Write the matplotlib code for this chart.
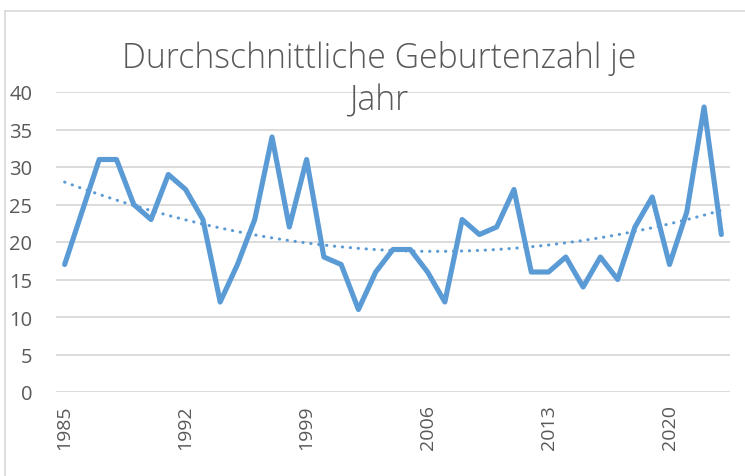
import numpy as np
import matplotlib
matplotlib.use("Agg")
import matplotlib.pyplot as plt
from matplotlib.lines import Line2D

# ========== DATA ==========
years = list(range(1985, 2024))
births = [17, 24, 31, 31, 25, 23, 29, 27, 23, 12,
          17, 23, 34, 22, 31, 18, 17, 11, 16, 19,
          19, 16, 12, 23, 21, 22, 27, 16, 16, 18,
          14, 18, 15, 22, 26, 17, 24, 38, 21]
tick_years = [1985, 1992, 1999, 2006, 2013, 2020]
title = "Durchschnittliche Geburtenzahl je\nJahr"

# ========== STYLE ==========
blue = "#5B9BD5"
grid_col = "#D9D9D9"
text_col = "#595959"
plt.rcParams["font.family"] = ["Open Sans", "DejaVu Sans"]

fig = plt.figure(figsize=(7.45, 4.77), dpi=100)
ax = fig.add_axes([56 / 745, 1 - 393 / 477, 674 / 745, 300 / 477])

x = np.arange(len(years))
ax.plot(x, births, color=blue, lw=3.7, solid_joinstyle="round",
        solid_capstyle="round", zorder=3)

# polynomial (order 2) trendline, dotted like Excel
coef = np.polyfit(x, births, 2)
trend = np.polyval(coef, x)
ax.plot(x, trend, color=blue, lw=2.2, linestyle=(0, (0.1, 2.5)),
        dash_capstyle="round", zorder=2)

ax.set_xlim(-0.5, len(years) - 0.5)
ax.set_ylim(0, 40)
ax.set_yticks(range(0, 41, 5))
ax.yaxis.grid(True, color=grid_col, lw=1.3)
ax.set_axisbelow(True)
ax.set_xticks([years.index(t) for t in tick_years])
ax.set_xticklabels([str(t) for t in tick_years], rotation=90)
ax.tick_params(axis="x", length=0, pad=9, labelsize=14, labelcolor=text_col)
ax.tick_params(axis="y", length=0, pad=17, labelsize=14.5, labelcolor=text_col)
for s in ax.spines.values():
    s.set_visible(False)

fig.text(379 / 745, 1 - 41 / 477, title, ha="center", va="top",
         fontsize=24.3, color=text_col, linespacing=1.3, fontweight="light")

# chart area border (only top and left are visible in the crop)
fig.add_artist(Line2D([5 / 745, 5 / 745], [0, 1 - 12 / 477],
                      transform=fig.transFigure, color=grid_col, lw=1.2))
fig.add_artist(Line2D([5 / 745, 1], [1 - 12 / 477, 1 - 12 / 477],
                      transform=fig.transFigure, color=grid_col, lw=1.2))

fig.savefig("out.png", dpi=100)
